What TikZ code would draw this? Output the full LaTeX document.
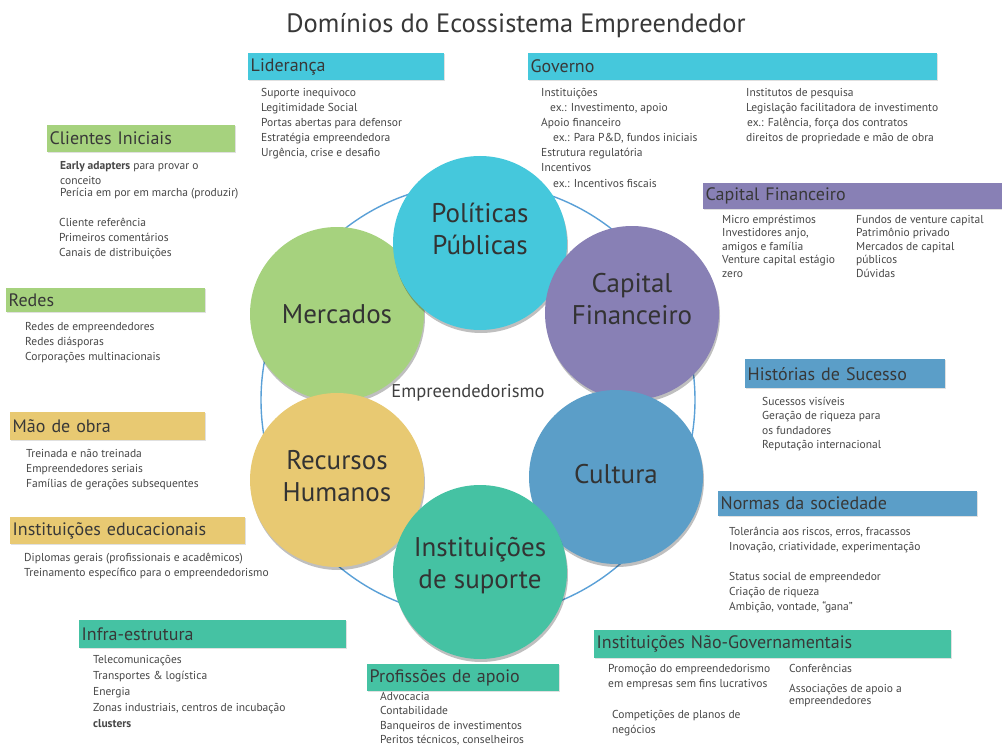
\documentclass[tikz,border=0pt]{standalone}
\usepackage{fontspec}
\setmainfont{PT Sans}
\usepackage{tikz}
\usetikzlibrary{shadows,positioning}
\definecolor{ciano}{RGB}{69,200,220}
\definecolor{roxo}{RGB}{136,128,181}
\definecolor{verde}{RGB}{166,210,126}
\definecolor{azul}{RGB}{91,158,200}
\definecolor{amarelo}{RGB}{232,201,114}
\definecolor{turquesa}{RGB}{69,194,163}
\definecolor{anel}{RGB}{90,160,215}
\tikzset{
  dominio/.style={circle,minimum size=174pt,inner sep=0pt,
                  drop shadow={shadow xshift=1pt,shadow yshift=-3pt,
                               fill=black,opacity=0.25}},
  rotulo/.style={align=center,font=\fontsize{27}{32}\selectfont,text=black!80},
  barra/.style={rectangle,anchor=north west,inner xsep=2.5pt,inner ysep=0pt,
                align=left,font=\fontsize{18}{20}\selectfont,text=black!78,
                drop shadow={shadow xshift=0.5pt,shadow yshift=-1pt,
                             fill=black,opacity=0.12}},
  itens/.style={anchor=north west,inner sep=0pt,align=left,
                font=\fontsize{11.5}{15}\selectfont,text=black!72},
}
\begin{document}
\begin{tikzpicture}[x=1pt,y=-1pt]
  \useasboundingbox (0,0) rectangle (1002,749);
  \fill[white] (0,0) rectangle (1002,749);

  \node[font=\fontsize{26.5}{30}\selectfont,text=black!78] (titulo) at (516,26)
    {Domínios do Ecossistema Empreendedor};

  % anel e dominios
  \node[circle,draw=anel,line width=1.4pt,minimum size=434pt] (anel) at (478,400) {};
  \node[dominio,fill=verde,label={[rotulo]center:Mercados}] (mer) at (337,314) {};
  \node[dominio,fill=ciano,label={[rotulo,yshift=14pt]center:Políticas\\Públicas}] (pol) at (480,243) {};
  \node[dominio,fill=roxo,label={[rotulo,yshift=14pt]center:Capital\\Financeiro}] (cap) at (632,313) {};
  \node[dominio,fill=azul,label={[rotulo,yshift=3pt]center:Cultura}] (cul) at (616,477) {};
  \node[dominio,fill=amarelo,label={[rotulo,yshift=4pt]center:Recursos\\Humanos}] (rec) at (337,480) {};
  \node[dominio,fill=turquesa,label={[rotulo,yshift=6pt]center:Instituições\\de suporte}] (ins) at (480,572) {};
  \node[font=\fontsize{18.5}{20}\selectfont,text=black!75] (emp) at (468,393) {Empreendedorismo};

  % barras
  \node[barra,fill=ciano,minimum height=27pt,text width=191pt] (lid) at (248,53) {Liderança};
  \node[barra,fill=ciano,minimum height=27pt,text width=404pt] (gov) at (528,53) {Governo};
  \node[barra,fill=verde,minimum height=27pt,text width=183pt] (cli) at (47,125) {Clientes Iniciais};
  \node[barra,fill=roxo,minimum height=26pt,text width=294pt] (fin) at (703,183) {Capital Financeiro};
  \node[barra,fill=verde,minimum height=24pt,text width=194pt] (red) at (6,288) {Redes};
  \node[barra,fill=amarelo,minimum height=28pt,text width=190pt] (mao) at (10,412) {Mão de obra};
  \node[barra,fill=azul,minimum height=29pt,text width=195pt] (his) at (745,359) {Histórias de Sucesso};
  \node[barra,fill=azul,minimum height=25pt,text width=254pt] (nor) at (718,491) {Normas da sociedade};
  \node[barra,fill=amarelo,minimum height=27pt,text width=230pt] (edu) at (10,517) {Instituições educacionais};
  \node[barra,fill=turquesa,minimum height=28pt,text width=262pt] (inf) at (79,620) {Infra-estrutura};
  \node[barra,fill=turquesa,minimum height=27pt,text width=187pt] (pro) at (367,664) {Profissões de apoio};
  \node[barra,fill=turquesa,minimum height=28pt,text width=352pt] (ong) at (594,630) {Instituições Não-Governamentais};

  % itens
  \node[itens] (lid-i) at (261,88.5)
    {Suporte inequivoco\\Legitimidade Social\\Portas abertas para defensor\\
     Estratégia empreendedora\\Urgência, crise e desafio};
  \node[itens] (gov-i) at (541,88)
    {Instituições\\\hspace{9pt}ex.: Investimento, apoio\\Apoio financeiro\\
     \hspace{12pt}ex.: Para P\&D, fundos iniciais\\Estrutura regulatória\\[0.5pt]
     Incentivos\\[0.5pt]\hspace{12pt}ex.: Incentivos fiscais};
  \node[itens] (gov-ii) at (746,88)
    {Institutos de pesquisa\\Legislação facilitadora de investimento\\
     \hspace{1pt}ex.: Falência, força dos contratos\\direitos de propriedade e mão de obra};
  \node[itens] (cli-i) at (60,161)
    {\textbf{Early adapters} para provar o\\conceito\\[-3pt]Perícia em por em marcha (produzir)};
  \node[itens] (cli-ii) at (59,218)
    {Cliente referência\\Primeiros comentários\\Canais de distribuições};
  \node[itens] (red-i) at (25,322)
    {Redes de empreendedores\\Redes diásporas\\Corporações multinacionais};
  \node[itens] (mao-i) at (26,449)
    {Treinada e não treinada\\Empreendedores seriais\\Famílias de gerações subsequentes};
  \node[itens] (edu-i) at (24,553)
    {Diplomas gerais (profissionais e acadêmicos)\\Treinamento específico para o empreendedorismo};
  \node[itens,font=\fontsize{11.5}{16}\selectfont] (inf-i) at (93,655)
    {Telecomunicações\\Transportes \& logística\\Energia\\
     Zonas industriais, centros de incubação\\\textbf{clusters}};
  \node[itens,font=\fontsize{11.5}{14.5}\selectfont] (pro-i) at (380,692)
    {Advocacia\\Contabilidade\\Banqueiros de investimentos\\Peritos técnicos, conselheiros};
  \node[itens,font=\fontsize{11.5}{14.3}\selectfont] (his-i) at (762,397)
    {Sucessos visíveis\\Geração de riqueza para\\os fundadores\\Reputação internacional};
  \node[itens] (nor-i) at (729,527)
    {Tolerância aos riscos, erros, fracassos\\Inovação, criatividade, experimentação};
  \node[itens] (nor-ii) at (729,572)
    {Status social de empreendedor\\Criação de riqueza\\Ambição, vontade, “gana”};
  \node[itens,font=\fontsize{11.5}{13.5}\selectfont] (fin-i) at (722,215)
    {Micro empréstimos\\Investidores anjo,\\amigos e família\\Venture capital estágio\\zero};
  \node[itens,font=\fontsize{11.5}{13.5}\selectfont] (fin-ii) at (856,215)
    {Fundos de venture capital\\Patrimônio privado\\Mercados de capital\\públicos\\Dúvidas};
  \node[itens] (ong-i) at (608,664)
    {Promoção do empreendedorismo\\em empresas sem fins lucrativos};
  \node[itens] (ong-ii) at (612,710)
    {Competições de planos de\\negócios};
  \node[itens] (ong-iii) at (789,664)
    {Conferências\\[5pt]Associações de apoio a\\[-3pt]empreendedores};
\end{tikzpicture}
\end{document}
